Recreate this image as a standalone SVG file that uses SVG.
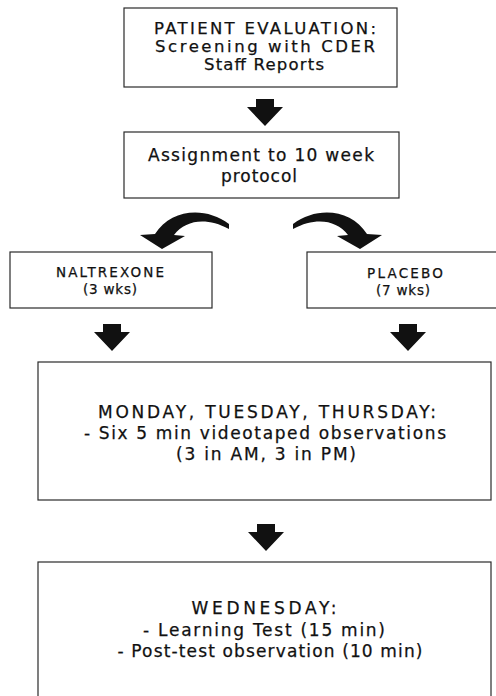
<svg xmlns="http://www.w3.org/2000/svg" xmlns:xlink="http://www.w3.org/1999/xlink" width="496" height="696" viewBox="0 0 496 696">
  <style>
    .box { fill: #fff; stroke: #2a2a2a; stroke-width: 1.2; }
    .t { font-family: "DejaVu Sans", "Liberation Sans", Arial, sans-serif; fill: #111; stroke: #111; stroke-width: 0.25; text-anchor: middle; }
    .big { font-size: 16.5px; }
    .big2 { font-size: 17px; }
    .small { font-size: 13.5px; }
    .arrow { fill: #111; }
  </style>
  <defs>
    <path id="down" d="M -9 0 L 9 0 L 9 8 L 18 8 L 0 27 L -18 8 L -9 8 Z"/>
    <path id="curve" d="M 229 224 C 205 206, 171 209, 155 234 L 140 235 L 162 249 L 185 236 L 174 235 C 186 220, 206 217, 229 229 Z"/>
  </defs>
  <rect width="496" height="696" fill="#fff"/>

  <g id="connectors" class="arrow">
    <use xlink:href="#down" href="#down" transform="translate(265,99)"/>
    <use xlink:href="#curve" href="#curve"/>
    <use xlink:href="#curve" href="#curve" transform="translate(522,0) scale(-1,1)"/>
    <use xlink:href="#down" href="#down" transform="translate(112,324)"/>
    <use xlink:href="#down" href="#down" transform="translate(408,324)"/>
    <use xlink:href="#down" href="#down" transform="translate(266,524)"/>
  </g>

  <g id="patient-evaluation">
    <rect class="box" x="124" y="8" width="273" height="79"/>
    <text class="t big" x="265" y="34" textLength="222" lengthAdjust="spacing">PATIENT EVALUATION:</text>
    <text class="t big" x="265" y="52" textLength="220" lengthAdjust="spacing">Screening with CDER</text>
    <text class="t big" x="264" y="70" textLength="120" lengthAdjust="spacing">Staff Reports</text>
  </g>

  <g id="assignment">
    <rect class="box" x="124" y="132" width="275" height="66"/>
    <text class="t big2" x="261" y="161" textLength="226" lengthAdjust="spacing">Assignment to 10 week</text>
    <text class="t big2" x="259" y="182" textLength="76" lengthAdjust="spacing">protocol</text>
  </g>

  <g id="naltrexone">
    <rect class="box" x="10" y="252" width="202" height="56"/>
    <text class="t small" x="110" y="277" textLength="108" lengthAdjust="spacing">NALTREXONE</text>
    <text class="t small" x="110" y="294" textLength="54" lengthAdjust="spacing">(3 wks)</text>
  </g>

  <g id="placebo">
    <rect class="box" x="307" y="252" width="200" height="56"/>
    <text class="t small" x="405" y="278" textLength="76" lengthAdjust="spacing">PLACEBO</text>
    <text class="t small" x="403" y="295" textLength="54" lengthAdjust="spacing">(7 wks)</text>
  </g>

  <g id="mon-tue-thu">
    <rect class="box" x="38" y="362" width="453" height="138"/>
    <text class="t big2" x="267" y="418" textLength="338" lengthAdjust="spacing">MONDAY, TUESDAY, THURSDAY:</text>
    <text class="t big2" x="265" y="439" textLength="362" lengthAdjust="spacing">- Six 5 min videotaped observations</text>
    <text class="t big2" x="266" y="460" textLength="180" lengthAdjust="spacing">(3 in AM, 3 in PM)</text>
  </g>

  <g id="wednesday">
    <rect class="box" x="38" y="562" width="453" height="150"/>
    <text class="t big2" x="264" y="614" textLength="145" lengthAdjust="spacing">WEDNESDAY:</text>
    <text class="t big2" x="264" y="636" textLength="242" lengthAdjust="spacing">- Learning Test (15 min)</text>
    <text class="t big2" x="270" y="657" textLength="305" lengthAdjust="spacing">- Post-test observation (10 min)</text>
  </g>
</svg>
